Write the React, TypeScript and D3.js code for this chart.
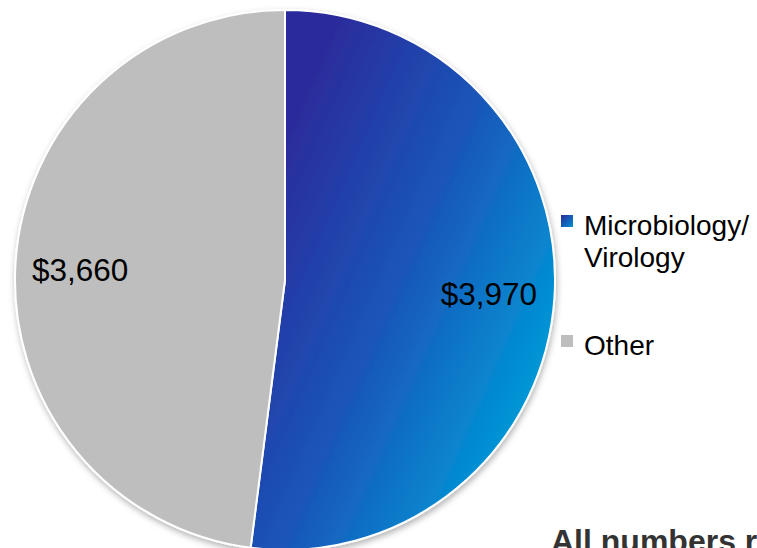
import React from "react";
import * as d3 from "d3";

const categories = ["Microbiology/ Virology", "Other"];
const values = [3970, 3660];
const labels = ["$3,970", "$3,660"];
const legendLines = [["Microbiology/", "Virology"], ["Other"]];

export default function App() {
  const W = 757, H = 548;
  const cx = 285, cy = 280, r = 270;
  const pie = d3.pie<number>().sort(null).value((d) => d)(values);
  const arc = d3.arc<d3.PieArcDatum<number>>().innerRadius(0).outerRadius(r);
  const fills = ["url(#blueGrad)", "#BEBEBE"];
  const labelPos = [
    [537, 305],
    [32, 281],
  ];
  const anchors = ["end", "start"];
  const font = "Liberation Sans, Arial, sans-serif";
  return (
    <svg width={W} height={H} style={{ position: "absolute", left: 0, top: 0 }}>
      <defs>
        <linearGradient id="blueGrad" gradientUnits="userSpaceOnUse"
          x1={300 - cx} y1={100 - cy} x2={600 - cx} y2={231 - cy}>
          <stop offset="0" stopColor="#2B2B9C" />
          <stop offset="0.5" stopColor="#1A56B8" />
          <stop offset="1" stopColor="#0096D6" />
        </linearGradient>
        <linearGradient id="legGrad" x1="0" y1="0" x2="1" y2="1">
          <stop offset="0" stopColor="#2C2A9B" />
          <stop offset="1" stopColor="#0090D4" />
        </linearGradient>
        <filter id="shadow" x="-10%" y="-10%" width="120%" height="120%">
          <feDropShadow dx="1" dy="3" stdDeviation="3" floodColor="#000" floodOpacity="0.3" />
        </filter>
      </defs>
      <rect width={W} height={H} fill="#fff" />
      <g transform={`translate(${cx},${cy})`} filter="url(#shadow)">
        {pie.map((p, i) => (
          <path key={i} d={arc(p) || ""} fill={fills[i]} stroke="#fff" strokeWidth={2} />
        ))}
      </g>
      {pie.map((p, i) => (
        <text key={"l" + i} x={labelPos[i][0]} y={labelPos[i][1]} textAnchor={anchors[i]}
          fontFamily={font} fontSize={31.5} fill="#000">
          {labels[i]}
        </text>
      ))}
      {categories.map((c, i) => {
        const y0 = i === 0 ? 215 : 335;
        return (
          <g key={"leg" + i}>
            <rect x={561} y={y0} width={12} height={12} fill={i === 0 ? "url(#legGrad)" : "#BEBEBE"} />
            {legendLines[i].map((t, j) => (
              <text key={j} x={584} y={y0 + 20 + j * 32} fontFamily={font}
                fontSize={28} fill="#000">{t}</text>
            ))}
          </g>
        );
      })}
      <text x={551} y={552} fontFamily={font} fontSize={32}
        fontWeight="bold" fill="#333">All numbers reflect</text>
    </svg>
  );
}
